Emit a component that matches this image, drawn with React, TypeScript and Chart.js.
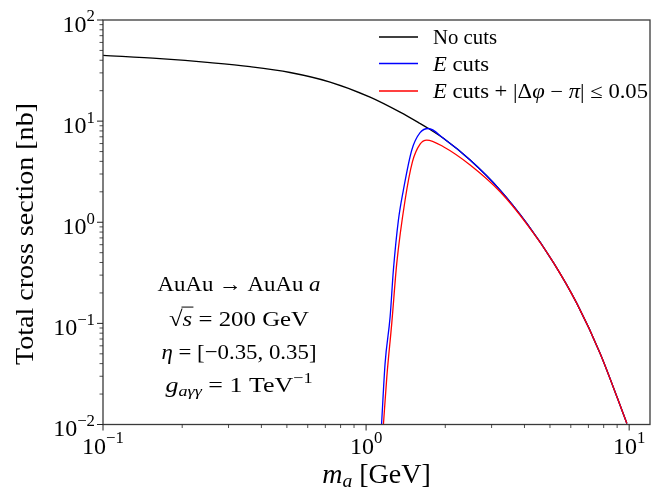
import React, { useEffect, useRef } from "react";
import { Chart, registerables } from "chart.js";
Chart.register(...registerables);

// ---- data ----
const noCutsX = [0.1, 0.1647, 0.2551, 0.3622, 0.5141, 0.7297, 1.0356, 1.3466, 1.604, 1.726, 1.967, 2.486, 3.232, 4.083, 5.156, 6.325, 7.757, 9.8];
const noCutsY = [44.76, 41.42, 37.82, 34.52, 30.25, 24.31, 17.28, 12.27, 9.47, 8.45, 6.76, 4.12, 2.08, 0.975, 0.3995, 0.1577, 0.0505, 0.01025];

const eCutsX = [1.145, 1.181, 1.234, 1.27, 1.327, 1.386, 1.492, 1.604, 1.726, 1.967, 2.486, 3.232, 4.083, 5.156, 6.325, 7.757, 9.8];
const eCutsY = [0.01, 0.0402, 0.116, 0.337, 1.05, 2.08, 5.18, 7.68, 8.45, 6.76, 4.12, 2.08, 0.975, 0.3995, 0.1577, 0.0505, 0.01025];

const dphiX = [1.164, 1.199, 1.252, 1.308, 1.407, 1.5, 1.604, 1.701, 1.967, 2.486, 3.232, 4.083, 5.156, 6.325, 7.757, 9.8];
const dphiY = [0.01, 0.0296, 0.1, 0.392, 1.66, 3.96, 5.93, 6.5, 5.58, 3.68, 2.0, 0.96, 0.3995, 0.1577, 0.0505, 0.01025];

const xMajorExps = [-1, 0, 1];
const yMajorExps = [-2, -1, 0, 1, 2];
const xMin = 0.1;
const xMax = 12.0;
const yMin = 0.01;
const yMax = 100;

const seriesColors = ["#000000", "#0000ff", "#ff0000"];
const yTitle = "Total cross section [nb]";

type Seg = { t: string; i?: boolean; sub?: boolean; sup?: boolean; bar?: boolean };

const legendLabels: Seg[][] = [
  [{ t: "No cuts" }],
  [{ t: "E", i: true }, { t: " cuts" }],
  [{ t: "E", i: true }, { t: " cuts + |Δ" }, { t: "φ", i: true }, { t: " − " }, { t: "π", i: true }, { t: "| ≤ 0.05" }],
];
const annotation: Seg[][] = [
  [{ t: "AuAu → AuAu " }, { t: "a", i: true }],
  [{ t: "√" }, { t: "s", i: true, bar: true }, { t: " = 200 GeV" }],
  [{ t: "η", i: true }, { t: " = [−0.35, 0.35]" }],
  [{ t: "g", i: true }, { t: "aγγ", i: true, sub: true }, { t: " = 1 TeV" }, { t: "−1", sup: true }],
];
const xTitle: Seg[] = [{ t: "m", i: true }, { t: "a", i: true, sub: true }, { t: " [GeV]" }];

// layout-only text widths (px) to mimic the wider Computer Modern metrics
const legendWidths = [64, 56, 215];
const annotationWidths = [163, 140, 155, 147];

const FONT = '"Liberation Serif", "DejaVu Serif", serif';

function segFont(s: Seg, size: number) {
  const sz = s.sub || s.sup ? size * 0.7 : size;
  return `${s.i ? "italic " : ""}${sz}px ${FONT}`;
}
function measure(ctx: CanvasRenderingContext2D, segs: Seg[], size: number) {
  let w = 0;
  for (const s of segs) {
    ctx.font = segFont(s, size);
    w += ctx.measureText(s.t).width;
  }
  return w;
}
function drawRich(ctx: CanvasRenderingContext2D, segs: Seg[], x: number, y: number, size: number, align: string, targetW = 0) {
  const mw = measure(ctx, segs, size);
  const sx = targetW > 0 ? targetW / mw : 1;
  const w = mw * sx;
  const x0 = align === "left" ? x : align === "center" ? x - w / 2 : x - w;
  ctx.save();
  ctx.translate(x0, y);
  ctx.scale(sx, 1);
  ctx.textAlign = "left";
  ctx.textBaseline = "alphabetic";
  let cx = 0;
  for (const s of segs) {
    ctx.font = segFont(s, size);
    const dy = s.sub ? size * 0.16 : s.sup ? -size * 0.42 : 0;
    ctx.fillText(s.t, cx, dy);
    const sw = ctx.measureText(s.t).width;
    if (s.bar) {
      ctx.lineWidth = 1;
      ctx.beginPath();
      ctx.moveTo(cx - 1, -size * 0.86);
      ctx.lineTo(cx + sw + 1, -size * 0.86);
      ctx.stroke();
    }
    cx += sw;
  }
  ctx.restore();
}

const decorPlugin = {
  id: "decor",
  afterDatasetsDraw(chart: any) {
    const ctx: CanvasRenderingContext2D = chart.ctx;
    const { left, right, top, bottom } = chart.chartArea;
    const xs = chart.scales.x;
    const ys = chart.scales.y;
    ctx.save();
    ctx.fillStyle = "#000";

    // frame
    ctx.lineWidth = 1.3;
    ctx.strokeStyle = "#3a3a3a";
    ctx.strokeRect(left, top, right - left, bottom - top);

    // y ticks
    ctx.strokeStyle = "#222";
    for (let e = yMajorExps[0]; e <= yMajorExps[yMajorExps.length - 1]; e++) {
      const py = ys.getPixelForValue(Math.pow(10, e));
      ctx.lineWidth = 1;
      ctx.beginPath();
      ctx.moveTo(left - 6, py);
      ctx.lineTo(left, py);
      ctx.stroke();
      if (e < yMajorExps[yMajorExps.length - 1]) {
        for (let k = 2; k <= 9; k++) {
          const pm = ys.getPixelForValue(k * Math.pow(10, e));
          ctx.lineWidth = 0.8;
          ctx.beginPath();
          ctx.moveTo(left - 3.5, pm);
          ctx.lineTo(left, pm);
          ctx.stroke();
        }
      }
    }
    for (const e of yMajorExps) {
      const py = ys.getPixelForValue(Math.pow(10, e));
      drawRich(ctx, [{ t: "10" }, { t: e < 0 ? "−" + Math.abs(e) : String(e), sup: true }], left - 8, py + 11.5, 24, "right");
    }

    // x ticks
    for (let e = xMajorExps[0]; e <= xMajorExps[xMajorExps.length - 1]; e++) {
      const px = xs.getPixelForValue(Math.pow(10, e));
      ctx.lineWidth = 1;
      ctx.beginPath();
      ctx.moveTo(px, bottom);
      ctx.lineTo(px, bottom + 6);
      ctx.stroke();
      for (let k = 2; k <= 9; k++) {
        const v = k * Math.pow(10, e);
        if (v > xMax) continue;
        const pm = xs.getPixelForValue(v);
        ctx.lineWidth = 0.8;
        ctx.beginPath();
        ctx.moveTo(pm, bottom);
        ctx.lineTo(pm, bottom + 3.5);
        ctx.stroke();
      }
    }
    for (const e of xMajorExps) {
      const px = xs.getPixelForValue(Math.pow(10, e));
      drawRich(ctx, [{ t: "10" }, { t: e < 0 ? "−" + Math.abs(e) : String(e), sup: true }], px, bottom + 29, 24, "center");
    }

    // axis titles
    drawRich(ctx, xTitle, (left + right) / 2, 483, 28, "center");
    ctx.save();
    ctx.translate(33, 234);
    ctx.rotate(-Math.PI / 2);
    drawRich(ctx, [{ t: yTitle }], 0, 0, 26, "center", 262);
    ctx.restore();

    // legend
    const legY = [37, 63.5, 91];
    legendLabels.forEach((segs, idx) => {
      ctx.strokeStyle = seriesColors[idx];
      ctx.lineWidth = 1.3;
      ctx.beginPath();
      ctx.moveTo(379, legY[idx]);
      ctx.lineTo(418, legY[idx]);
      ctx.stroke();
      ctx.fillStyle = "#000";
      ctx.strokeStyle = "#000";
      drawRich(ctx, segs, 433, legY[idx] + 7, 20, "left", legendWidths[idx]);
    });

    // annotation
    const annY = [291, 326, 359, 392];
    ctx.strokeStyle = "#000";
    annotation.forEach((segs, idx) => {
      drawRich(ctx, segs, 239, annY[idx], 22, "center", annotationWidths[idx]);
    });
    ctx.restore();
  },
};

export default function App() {
  const ref = useRef<HTMLCanvasElement | null>(null);
  useEffect(() => {
    document.body.style.margin = "0";
    const canvas = ref.current!;
    const mk = (xs: number[], ys: number[]) => xs.map((x, i) => ({ x, y: ys[i] }));
    const chart = new Chart(canvas, {
      type: "line",
      data: {
        datasets: [
          { label: "No cuts", data: mk(noCutsX, noCutsY), borderColor: seriesColors[0], order: 3 },
          { label: "E cuts", data: mk(eCutsX, eCutsY), borderColor: seriesColors[1], order: 2 },
          { label: "E cuts + dphi", data: mk(dphiX, dphiY), borderColor: seriesColors[2], order: 1 },
        ].map((d) => ({
          ...d,
          borderWidth: 1.3,
          pointRadius: 0,
          fill: false,
          cubicInterpolationMode: "monotone" as const,
        })),
      },
      options: {
        animation: false,
        responsive: false,
        devicePixelRatio: 1,
        layout: { padding: { left: 103, right: 14, top: 20, bottom: 64.5 } },
        scales: {
          x: { type: "logarithmic", min: xMin, max: xMax, display: false },
          y: { type: "logarithmic", min: yMin, max: yMax, display: false },
        },
        plugins: { legend: { display: false }, tooltip: { enabled: false } },
      },
      plugins: [decorPlugin],
    });
    return () => chart.destroy();
  }, []);
  return <canvas ref={ref} width={664} height={489} style={{ display: "block" }} />;
}
